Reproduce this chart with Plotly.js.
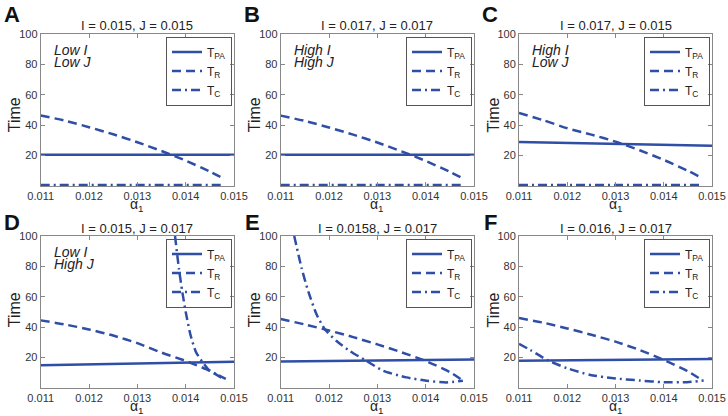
<!DOCTYPE html>
<html>
<head>
<meta charset="utf-8">
<script src="https://cdn.plot.ly/plotly-3.0.1.min.js"></script>
<style>
  html, body { margin: 0; padding: 0; background: #fff; }
  #chart { width: 728px; height: 416px; }
</style>
</head>
<body>
<div id="chart"></div>
<script>
// panel labels and parameter titles
const panelLetters = ['A', 'B', 'C', 'D', 'E', 'F'];
const panelTitles = [
    'I = 0.015, J = 0.015', 'I = 0.017, J = 0.017', 'I = 0.017, J = 0.015',
    'I = 0.015, J = 0.017', 'I = 0.0158, J = 0.017', 'I = 0.016, J = 0.017'
];
const regimeLine1 = ['Low I', 'High I', 'High I', 'Low I', '', ''];
const regimeLine2 = ['Low J', 'High J', 'Low J', 'High J', '', ''];

const seriesNames = ['T<sub>PA</sub>', 'T<sub>R</sub>', 'T<sub>C</sub>'];
const xTicks = [0.011, 0.012, 0.013, 0.014, 0.015];
const yTicks = [20, 40, 60, 80, 100];

// T_PA (solid)
const tpaX = [0.011, 0.012, 0.013, 0.014, 0.015];
const tpaA = [20.5, 20.5, 20.5, 20.5, 20.5];
const tpaB = [20.5, 20.5, 20.5, 20.5, 20.5];
const tpaC = [29.0, 28.4, 27.8, 27.1, 26.4];
const tpaD = [15.0, 15.5, 16.0, 16.6, 17.3];
const tpaE = [17.5, 17.8, 18.1, 18.4, 18.8];
const tpaF = [18.0, 18.2, 18.5, 18.8, 19.1];

// T_R (dashed)
const trX = [0.011, 0.0115, 0.012, 0.0125, 0.013, 0.0135, 0.014, 0.0145, 0.0148];
const trA = [46.4, 43.0, 38.7, 34.0, 28.8, 23.0, 16.7, 9.5, 4.6];
const trB = [46.3, 42.8, 38.5, 33.8, 28.6, 22.8, 16.5, 9.3, 4.5];
const trC = [48.1, 43.3, 38.0, 33.8, 29.2, 23.5, 17.2, 10.0, 5.2];
const trD = [44.5, 41.8, 38.5, 34.5, 29.5, 23.3, 17.8, 11.3, 5.5];
const trE = [45.4, 41.8, 37.8, 33.5, 28.7, 23.5, 17.8, 10.5, 4.2];
const trF = [46.0, 43.0, 39.2, 35.0, 30.5, 25.0, 18.5, 11.0, 5.0];

// T_C (dash-dot)
const tcXA = [0.011, 0.0148];
const tcA = [0.6, 0.6];
const tcXB = [0.011, 0.0148];
const tcB = [0.6, 0.6];
const tcXC = [0.011, 0.0148];
const tcC = [0.6, 0.6];
const tcXD = [0.01378, 0.01386, 0.01393, 0.0140, 0.0141, 0.01421, 0.01434, 0.01448, 0.01466, 0.01483];
const tcD = [100, 78.6, 63.3, 50.2, 34.9, 23.9, 17.4, 11.9, 8.7, 6.0];
const tcXE = [0.01128, 0.011434, 0.011571, 0.011744, 0.011916, 0.012157, 0.012432, 0.012776, 0.01312, 0.013602, 0.014015, 0.014429, 0.01477];
const tcE = [100, 78.7, 63.5, 48.3, 38.5, 30.9, 24.3, 17.8, 11.3, 7.0, 4.8, 3.7, 4.8];
const tcXF = [0.011, 0.011235, 0.01158, 0.011995, 0.012478, 0.01296, 0.013515, 0.013998, 0.01448, 0.014827];
const tcF = [29.0, 25.0, 18.5, 13.0, 8.6, 6.4, 4.9, 3.8, 3.8, 4.9];

const panels = [
    { tpa: tpaA, tr: trA, tcx: tcXA, tc: tcA },
    { tpa: tpaB, tr: trB, tcx: tcXB, tc: tcB },
    { tpa: tpaC, tr: trC, tcx: tcXC, tc: tcC },
    { tpa: tpaD, tr: trD, tcx: tcXD, tc: tcD },
    { tpa: tpaE, tr: trE, tcx: tcXE, tc: tcE },
    { tpa: tpaF, tr: trF, tcx: tcXF, tc: tcF }
];

const lineColor = '#2f4ea6';
const font = 'Liberation Sans, Arial, sans-serif';
const W = 728, H = 416;

// plot boxes in pixels [left, right] and [top, bottom]
const colPx = [[40.7, 234], [280.7, 474], [519, 712]];
const rowPx = [[34, 186], [236, 388]];

const traces = [];
const layout = {
    width: W, height: H,
    margin: { l: 0, r: 0, t: 0, b: 0 },
    paper_bgcolor: '#fff', plot_bgcolor: '#fff',
    font: { family: font, color: '#222' },
    showlegend: true,
    annotations: []
};

panels.forEach((p, i) => {
    const n = i + 1;
    const xa = n === 1 ? 'x' : 'x' + n;
    const ya = n === 1 ? 'y' : 'y' + n;
    const lg = n === 1 ? 'legend' : 'legend' + n;
    const top = i < 3;
    const col = colPx[i % 3], row = rowPx[top ? 0 : 1];

    traces.push({
        x: tpaX, y: p.tpa, xaxis: xa, yaxis: ya, legend: lg,
        name: seriesNames[0], mode: 'lines', type: 'scatter',
        line: { color: lineColor, width: 2.5 }
    });
    traces.push({
        x: trX, y: p.tr, xaxis: xa, yaxis: ya, legend: lg,
        name: seriesNames[1], mode: 'lines', type: 'scatter',
        line: { color: lineColor, width: 2.5, dash: '9px,5px', shape: 'spline', smoothing: 0.6 }
    });
    traces.push({
        x: p.tcx, y: p.tc, xaxis: xa, yaxis: ya, legend: lg,
        name: seriesNames[2], mode: 'lines', type: 'scatter',
        line: { color: lineColor, width: 2.5, dash: '9px,4px,2px,4px', shape: 'spline', smoothing: 0.6 }
    });

    const axisCommon = {
        showline: true, linecolor: '#888', linewidth: 1, mirror: 'ticks',
        ticks: 'inside', ticklen: 4, tickcolor: '#888',
        showgrid: false, zeroline: false,
        tickfont: { size: 11, color: '#333', family: font }
    };
    layout['xaxis' + (n === 1 ? '' : n)] = Object.assign({}, axisCommon, {
        domain: [col[0] / W, col[1] / W], anchor: ya,
        range: [0.011, 0.015], tickvals: xTicks, ticktext: xTicks.map(v => v.toFixed(3))
    });
    layout['yaxis' + (n === 1 ? '' : n)] = Object.assign({}, axisCommon, {
        domain: [1 - row[1] / H, 1 - row[0] / H], anchor: xa,
        range: [0, 100], tickvals: yTicks
    });

    layout[lg] = {
        x: (col[1] - 2) / W, y: 1 - (row[0] + 2.5) / H,
        xanchor: 'right', yanchor: 'top',
        bgcolor: 'rgba(255,255,255,0)', bordercolor: '#555', borderwidth: 1,
        font: { size: 12, family: font, color: '#222' },
        tracegroupgap: 0, itemwidth: 30
    };

    // axis titles, set close to the tick labels as in the figure
    layout.annotations.push({
        xref: xa + ' domain', yref: ya + ' domain', x: 0.5, y: 0,
        xanchor: 'center', yanchor: 'middle', yshift: -19,
        text: 'α<sub>1</sub>', showarrow: false,
        font: { size: 14, family: font, color: '#222' }
    });
    layout.annotations.push({
        xref: 'paper', yref: 'paper', x: (col[0] - 26.5) / W, y: 1 - (top ? 115 : 310) / H,
        xanchor: 'center', yanchor: 'middle', textangle: -90,
        text: 'Time', showarrow: false,
        font: { size: 16, family: font, color: '#222' }
    });

    layout.annotations.push({
        xref: xa + ' domain', yref: ya + ' domain', x: 0.5, y: 1,
        xanchor: 'center', yanchor: 'middle', yshift: top ? 9 : 8,
        text: panelTitles[i], showarrow: false,
        font: { size: 13, family: font, color: '#222' }
    });
    layout.annotations.push({
        xref: 'paper', yref: 'paper',
        x: (col[0] - 28.7) / W, y: 1 - (top ? 15 : 222) / H,
        xanchor: 'center', yanchor: 'middle',
        text: '<b>' + panelLetters[i] + '</b>', showarrow: false,
        font: { size: 22, family: font, color: '#111' }
    });
    if (regimeLine1[i]) {
        layout.annotations.push({
            xref: xa + ' domain', yref: ya + ' domain', x: 0, y: 1,
            xanchor: 'left', yanchor: 'middle', xshift: 11, yshift: -16,
            text: '<i>' + regimeLine1[i] + '</i>', showarrow: false,
            font: { size: 14, family: font, color: '#222' }
        });
        layout.annotations.push({
            xref: xa + ' domain', yref: ya + ' domain', x: 0, y: 1,
            xanchor: 'left', yanchor: 'middle', xshift: 11, yshift: -28,
            text: '<i>' + regimeLine2[i] + '</i>', showarrow: false,
            font: { size: 14, family: font, color: '#222' }
        });
    }
});

Plotly.newPlot('chart', traces, layout, { staticPlot: true, displayModeBar: false });
</script>
</body>
</html>
